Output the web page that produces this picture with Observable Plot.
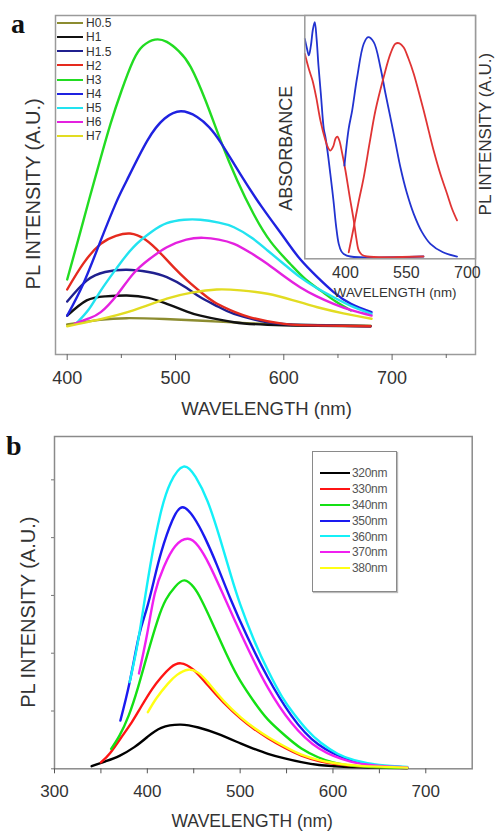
<!DOCTYPE html>
<html>
<head>
<meta charset="utf-8">
<script src="https://cdn.jsdelivr.net/npm/d3@7"></script>
<script src="https://cdn.jsdelivr.net/npm/@observablehq/plot@0.6"></script>
<style>
  html, body { margin: 0; padding: 0; background: #fff; }
  #root { position: relative; width: 495px; height: 832px; overflow: hidden; font-family: 'Liberation Sans', Arial, Helvetica, sans-serif; }
  .layer { position: absolute; }
  .panel-letter { position: absolute; font-family: 'Liberation Serif', 'Times New Roman', serif; font-weight: bold; font-size: 28px; line-height: 28px; color: #111; }
  .leg-line { position: absolute; height: 0; }
  .leg-text { position: absolute; white-space: nowrap; line-height: 14px; }
</style>
</head>
<body>
<div id="root"></div>
<script>
// ---------------- Panel a : PL spectra of samples (wavelength nm, intensity a.u.) ----------------
const seriesNamesA = ["H0.5", "H1", "H1.5", "H2", "H3", "H4", "H5", "H6", "H7"];
const seriesColorsA = ["#8c8c30", "#111111", "#20208f", "#e52a1e", "#22dc22", "#1f22e0", "#22e3f0", "#e421df", "#e2dc22"];
const aH05 = [[400,0.7],[430,2.3],[455,2.9],[490,2.6],[530,1.9],[570,1.1],[620,0.5],[680,0.3]];
const aH1  = [[400,3.8],[418,9.1],[435,10.5],[455,10.8],[475,10],[492,7.9],[510,5.3],[523,3.8],[554,1.5],[585,0.6],[630,0.2],[680,0.1]];
const aH15 = [[400,8.7],[418,16],[435,19],[455,19.8],[475,19],[492,17.2],[510,13.5],[523,10.2],[540,6.8],[554,4.4],[585,1.5],[620,0.5],[680,0.1]];
const aH2  = [[400,12.9],[415,22],[431,28.8],[445,31.6],[458,32.4],[472,30.3],[486,25.6],[498,20.8],[511,16],[525,11.5],[538,8],[555,5],[569,3.2],[600,0.9],[640,0.3],[680,0.1]];
const aH3  = [[400,16.4],[410,30],[420,43.9],[430,57.5],[440,70.6],[450,82],[461,92.7],[470,97.8],[481,100],[492,99.2],[503,96],[514,90.5],[528,78.5],[542,64.5],[557,50.9],[572,39.3],[588,29.5],[606,21.8],[620,16.5],[634,12.5],[648,8.7],[662,5.6]];
const aH4  = [[400,3.8],[415,15],[431,30],[445,43],[455,50.9],[474,64.8],[490,72.5],[505,75],[520,73],[531,69.5],[542,64],[560,53],[580,41.5],[600,31.1],[615,23.5],[631,17.2],[646,12],[662,7.9],[681,5]];
const aH5  = [[408,0.9],[420,6],[431,12.5],[446,20.5],[461,27.6],[478,33],[492,36],[508,37.2],[523,37.2],[540,36.2],[554,34.6],[570,31],[585,26.5],[600,21.8],[615,17.2],[630,13.5],[646,10.2],[663,7],[681,4.4]];
const aH6  = [[407,1],[420,2.8],[431,5],[446,11],[461,18.4],[476,23.5],[492,27.6],[510,30.3],[526,30.9],[540,30.3],[554,28.8],[570,25.5],[585,21.8],[600,17.6],[615,13.7],[630,10.6],[646,7.9],[663,5.6],[681,3.8]];
const aH7  = [[400,0.1],[430,2.5],[461,5.6],[492,9.7],[515,11.8],[538,12.9],[560,12.6],[585,11.4],[608,9.2],[631,6.7],[655,4.6],[681,2.7]];
const seriesA = [aH05, aH1, aH15, aH2, aH3, aH4, aH5, aH6, aH7];
const xTicksA = [400, 500, 600, 700];
const xMinorA = [450, 550, 650, 750];

// ---------------- Inset : absorbance and PL of two samples ----------------
const insetBlueAbs = [[300,0.929],[305,0.89],[310,0.858],[315,0.9],[320,0.97],[324.5,1.0],[329,0.93],[333.6,0.815],[339.8,0.687],[346.6,0.546],[350.8,0.509],[355.7,0.452],[363,0.35],[370.5,0.239],[377,0.13],[383.5,0.054],[390,0.022],[395.8,0.011],[412,0],[592,0]];
const insetRedAbs  = [[300,0.865],[310,0.8],[319,0.751],[328,0.68],[338.5,0.58],[350,0.5],[357,0.465],[363,0.452],[370,0.47],[376,0.505],[380,0.512],[385,0.495],[392,0.44],[400,0.367],[410,0.26],[420.4,0.154],[427,0.075],[432.7,0.026],[440,0.008],[453,0],[592,0]];
const insetBluePL  = [[397.5,0.388],[408,0.546],[416.5,0.623],[428.8,0.765],[445,0.908],[455.8,0.936],[469.6,0.915],[486,0.808],[498,0.7],[510.6,0.594],[523,0.487],[535.2,0.381],[551,0.272],[568,0.182],[588,0.105],[609,0.054],[640,0.018],[674.6,0]];
const insetRedPL   = [[408,0.018],[420.4,0.125],[432,0.23],[445,0.338],[460,0.49],[473.8,0.623],[494,0.765],[510.6,0.865],[523,0.908],[533,0.91],[543,0.893],[555,0.845],[568,0.78],[580,0.705],[592.5,0.623],[605,0.535],[617,0.452],[633,0.355],[650,0.268],[662,0.205],[674.6,0.154]];
const insetColors = {blue: "#2233d0", red: "#e03434"};
const xTicksInset = [400, 550, 700];

// ---------------- Panel b : PL under different excitation wavelengths ----------------
const seriesNamesB = ["320nm", "330nm", "340nm", "350nm", "360nm", "370nm", "380nm"];
const seriesColorsB = ["#000000", "#ff1414", "#14e014", "#1a1af0", "#14f0f8", "#f020f0", "#ffff14"];
const b320 = [[340,0.9],[355,2.6],[370,4.5],[386,7.5],[400,11],[415,14.2],[436,15.3],[455,14.3],[476,12.1],[501,8.7],[515,6.9],[530,5.2],[548,3.6],[566,2.3],[585,1.3],[601,0.9],[630,0.5],[680,0.3]];
const b330 = [[350,2.2],[360,5.5],[372,10.9],[383,16],[393,21.3],[405,27.5],[415,31.7],[425,35],[436,36.5],[450,34.2],[465,29],[482,23],[501,17.3],[515,13.8],[530,10.6],[548,7.3],[566,4.6],[585,2.7],[601,1.7],[630,0.8],[680,0.3]];
const b340 = [[361,6.9],[370,11.5],[380,18.5],[390,28.2],[400,39.5],[411,51.3],[420,58.5],[430,63],[440,65.2],[450,62.8],[458,58.6],[470,50.5],[487,38.5],[500,30.5],[515,23.2],[530,17],[548,11.6],[566,7],[584,4],[600,2.2],[620,1.1],[650,0.5],[680,0.3]];
const b350 = [[371,16.7],[381,30],[391,46],[399,55],[407,65],[415,75],[427,86],[438,90.5],[450,87],[462,80],[475,70.5],[490,58.5],[508,45.5],[530,31.5],[555,18.5],[584,8.5],[620,2.9],[650,1.1],[680,0.5]];
const b360 = [[381,30],[387,39],[393,50],[403,70],[414,88],[425,99],[439,104.6],[452,101],[465,92.5],[478,80],[490,67],[500,57],[515,44.5],[530,34],[545,25],[558,19],[572,13.5],[587,9],[605,5.2],[623,3],[650,1.3],[680,0.6]];
const b370 = [[391,33],[400,47],[408,60.6],[418,70],[430,77],[443.6,79.6],[455,77],[467,70.5],[480,61.5],[494,51.5],[510,40.5],[530,28],[555,16],[585,7],[620,2.4],[650,1],[680,0.5]];
const b380 = [[400.6,19.6],[410,24.5],[422,29.4],[432,32.5],[444,34.3],[455,33.2],[465,30],[482,23.6],[501,17.7],[515,14.2],[530,11],[548,7.7],[566,4.9],[585,3],[601,2],[630,1],[680,0.4]];
const seriesB = [b320, b330, b340, b350, b360, b370, b380];
const xTicksB = [300, 400, 500, 600, 700];
const xMinorB = [350, 450, 550, 650];
const yTicksB = [0, 20, 40, 60, 80, 100];

// ---------------- Drawing ----------------
const FONT = "'Liberation Sans', Arial, Helvetica, sans-serif";
const root = document.getElementById("root");
function place(node, left, top) {
  const d = document.createElement("div");
  d.className = "layer";
  d.style.left = left + "px";
  d.style.top = top + "px";
  d.appendChild(node);
  root.appendChild(d);
  return d;
}
const px = d => d[0], py = d => d[1];
const title = (s, o) => Plot.text([s], Object.assign({text: d => d, textAnchor: "middle", lineAnchor: "middle", fill: "#333"}, o));

// Panel a
const plotA = Plot.plot({
  width: 495, height: 420,
  marginTop: 15, marginBottom: 66, marginLeft: 55, marginRight: 20,
  x: {domain: [389.2, 777]},
  y: {domain: [-9.76, 108.4], axis: null},
  style: {fontFamily: FONT, color: "#333", background: "white"},
  marks: [
    Plot.frame({stroke: "#9a9a9a", strokeWidth: 1.5}),
    Plot.axisX({ticks: xTicksA, tickSize: 6, tickPadding: 11, fontSize: 18, label: null, stroke: "#666"}),
    Plot.axisX({ticks: xMinorA, tickSize: 4, tickFormat: () => "", label: null, stroke: "#666"}),
    ...seriesA.map((s, i) => Plot.line(s, {x: px, y: py, stroke: seriesColorsA[i], strokeWidth: 2.4, curve: "natural"})),
    title("PL INTENSITY (A.U.)", {frameAnchor: "left", rotate: -90, dx: -21.5, dy: 8.8, fontSize: 20}),
    title("WAVELENGTH (nm)", {frameAnchor: "bottom", dx: 1, dy: 54.3, fontSize: 18.5})
  ]
});
place(plotA, 0, 0);

// Inset
const plotInset = Plot.plot({
  width: 225, height: 300,
  marginTop: 15, marginBottom: 41.7, marginLeft: 34.3, marginRight: 20,
  x: {domain: [300, 720]},
  y: {domain: [-0.0098, 1.0286], axis: null},
  style: {fontFamily: FONT, color: "#333", background: "transparent", overflow: "visible"},
  marks: [
    Plot.frame({fill: "white", stroke: "none"}),
    Plot.line(insetBlueAbs, {x: px, y: py, stroke: insetColors.blue, strokeWidth: 1.8, curve: "catmull-rom"}),
    Plot.line(insetRedAbs, {x: px, y: py, stroke: insetColors.red, strokeWidth: 1.8, curve: "catmull-rom"}),
    Plot.line(insetBluePL, {x: px, y: py, stroke: insetColors.blue, strokeWidth: 1.8, curve: "catmull-rom"}),
    Plot.line(insetRedPL, {x: px, y: py, stroke: insetColors.red, strokeWidth: 1.8, curve: "catmull-rom"}),
    Plot.frame({stroke: "#9a9a9a", strokeWidth: 1.5}),
    Plot.axisX({ticks: xTicksInset, tickSize: 0, tickPadding: 8, fontSize: 16, label: null}),
    title("ABSORBANCE", {frameAnchor: "left", rotate: -90, dx: -18.1, dy: 11, fontSize: 18}),
    title("PL INTENSITY (A.U.)", {frameAnchor: "right", rotate: -90, dx: 10.3, dy: -3, fontSize: 17, ariaLabel: "inset-right-title"}),
    title("WAVELENGTH (nm)", {frameAnchor: "bottom", dx: 5, dy: 33.7, fontSize: 13.3})
  ]
});
d3.select(plotInset).selectAll('g[aria-label="inset-right-title"] text').style("letter-spacing", "1.2px");
place(plotInset, 270, 0);

// Panel b
const plotB = Plot.plot({
  width: 495, height: 412,
  marginTop: 16, marginBottom: 63.7, marginLeft: 54, marginRight: 23.3,
  x: {domain: [300, 750]},
  y: {domain: [0, 115]},
  style: {fontFamily: FONT, color: "#333", background: "white"},
  marks: [
    Plot.frame({stroke: "#8a8a8a", strokeWidth: 1.5}),
    Plot.axisX({ticks: xTicksB, tickSize: 5, tickPadding: 11, fontSize: 17, label: null, stroke: "#555"}),
    Plot.axisX({ticks: xMinorB, tickSize: 5, tickFormat: () => "", label: null, stroke: "#555"}),
    Plot.axisY({ticks: yTicksB, tickSize: 3, tickFormat: () => "", label: null, stroke: "#777"}),
    ...seriesB.map((s, i) => Plot.line(s, {x: px, y: py, stroke: seriesColorsB[i], strokeWidth: 2.4, curve: "natural"})),
    title("PL INTENSITY (A.U.)", {frameAnchor: "left", rotate: -90, dx: -25.5, dy: 9.5, fontSize: 20}),
    title("WAVELENGTH (nm)", {frameAnchor: "bottom", dx: -11.2, dy: 52.4, fontSize: 17.5})
  ]
});
place(plotB, 0, 420);

// Legend a
seriesNamesA.forEach((name, i) => {
  const cy = 23.3 + i * 14.1;
  const line = document.createElement("div");
  line.className = "leg-line";
  Object.assign(line.style, {left: "57px", top: (cy - 1.2) + "px", width: "26px", borderTop: "2.4px solid " + seriesColorsA[i]});
  root.appendChild(line);
  const t = document.createElement("div");
  t.className = "leg-text";
  t.textContent = name;
  Object.assign(t.style, {left: "86px", top: (cy - 7) + "px", fontSize: "12px", color: "#333"});
  root.appendChild(t);
});

// Legend b
const boxB = document.createElement("div");
Object.assign(boxB.style, {position: "absolute", left: "311.7px", top: "451px", width: "83px", height: "139px", border: "1px solid #8a8a8a", background: "#fff", boxShadow: "1px 1px 1px #bbb"});
root.appendChild(boxB);
seriesNamesB.forEach((name, i) => {
  const cy = 473.3 + i * 15.83;
  const line = document.createElement("div");
  line.className = "leg-line";
  Object.assign(line.style, {left: "320px", top: (cy - 1.2) + "px", width: "30px", borderTop: "2.4px solid " + seriesColorsB[i]});
  root.appendChild(line);
  const t = document.createElement("div");
  t.className = "leg-text";
  t.textContent = name;
  Object.assign(t.style, {left: "352px", top: (cy - 7) + "px", fontSize: "12px", color: "#555", letterSpacing: "-0.3px"});
  root.appendChild(t);
});

// Panel letters
const la = document.createElement("div");
la.className = "panel-letter"; la.textContent = "a";
Object.assign(la.style, {left: "11px", top: "9.6px"});
root.appendChild(la);
const lb = document.createElement("div");
lb.className = "panel-letter"; lb.textContent = "b";
Object.assign(lb.style, {left: "6px", top: "431.6px"});
root.appendChild(lb);
</script>
</body>
</html>
